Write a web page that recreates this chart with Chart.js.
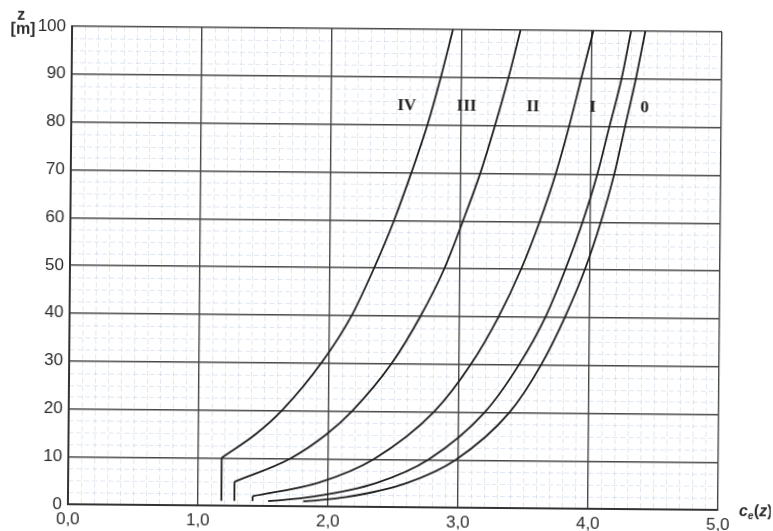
<!DOCTYPE html>
<html>
<head>
<meta charset="utf-8">
<title>ce(z)</title>
<script src="https://cdn.jsdelivr.net/npm/chart.js@4.4.1/dist/chart.umd.min.js"></script>
<style>
  html, body { margin: 0; padding: 0; background: #fff; overflow: hidden; }
  #wrap { width: 773px; height: 531px; transform: rotate(0.5deg); transform-origin: 50% 50%; }
</style>
</head>
<body>
<div id="wrap"><canvas id="ce" width="773" height="531"></canvas></div>
<script>
/* ===== współczynnik ekspozycji ce(z), kategorie terenu 0 - IV ===== */

const categories = ["0", "I", "II", "III", "IV"];

// wysokości z [m] i odczytane wartości ce(z)
const z0 = [1, 2, 5, 10, 20, 30, 40, 50, 60, 70, 80, 90, 100];
const ce0 = [1.81, 2.14, 2.60, 2.98, 3.39, 3.63, 3.81, 3.96, 4.08, 4.18, 4.26, 4.34, 4.41];

const zI = [1, 2, 5, 10, 20, 30, 40, 50, 60, 70, 80, 90, 100];
const ceI = [1.54, 1.88, 2.37, 2.77, 3.20, 3.46, 3.66, 3.81, 3.94, 4.05, 4.14, 4.23, 4.30];

const zII = [2, 5, 10, 20, 30, 40, 50, 60, 70, 80, 90, 100];
const ceII = [1.42, 1.93, 2.35, 2.81, 3.09, 3.30, 3.47, 3.61, 3.73, 3.83, 3.92, 4.01];

const zIII = [5, 10, 15, 20, 30, 40, 50, 60, 70, 80, 90, 100];
const ceIII = [1.28, 1.71, 1.98, 2.18, 2.48, 2.70, 2.88, 3.02, 3.15, 3.26, 3.36, 3.45];

const zIV = [10, 15, 20, 30, 40, 50, 60, 70, 80, 90, 100];
const ceIV = [1.18, 1.44, 1.64, 1.94, 2.17, 2.34, 2.49, 2.62, 2.74, 2.84, 2.93];

// poniżej zmin wartość stała (odcinek pionowy od z = 1 m)
const zBottom = 1;

// podpisy krzywych
const labelCe = [4.41, 4.01, 3.55, 3.04, 2.58];
const labelZ = 84;

// osie
const xTicks = [0, 1, 2, 3, 4, 5];
const yTicks = [0, 10, 20, 30, 40, 50, 60, 70, 80, 90, 100];

const zs = [z0, zI, zII, zIII, zIV];
const ces = [ce0, ceI, ceII, ceIII, ceIV];

const LINE = "#1f1f1f";
const fmt = v => v.toFixed(1).replace(".", ",");

const datasets = [];
categories.forEach((cat, i) => {
  const z = zs[i], c = ces[i];
  datasets.push({
    label: cat,
    data: z.map((h, k) => ({ x: c[k], y: h })),
    showLine: true, borderColor: LINE, borderWidth: 1.8,
    pointRadius: 0, cubicInterpolationMode: "monotone", fill: false,
  });
  if (z[0] > zBottom) {
    datasets.push({
      label: cat + " zmin",
      data: [{ x: c[0], y: zBottom }, { x: c[0], y: z[0] }],
      showLine: true, borderColor: LINE, borderWidth: 1.8,
      pointRadius: 0, tension: 0, fill: false,
    });
  }
});

// drobna siatka (0,1 x 2,5 m) pod siatką główną
const minorGrid = {
  id: "minorGrid",
  beforeDraw(chart) {
    const { ctx, chartArea: a, scales: { x, y } } = chart;
    ctx.save();
    ctx.fillStyle = "#fff";
    ctx.fillRect(0, 0, chart.width, chart.height);
    ctx.strokeStyle = "rgba(130,160,195,0.24)";
    ctx.lineWidth = 1;
    ctx.setLineDash([5, 3]);
    ctx.beginPath();
    for (let k = 1; k < 50; k++) {
      if (k % 10 === 0) continue;
      const px = Math.round(x.getPixelForValue(k / 10)) + 0.5;
      ctx.moveTo(px, a.top); ctx.lineTo(px, a.bottom);
    }
    for (let k = 1; k < 40; k++) {
      if (k % 4 === 0) continue;
      const py = Math.round(y.getPixelForValue(k * 2.5)) + 0.5;
      ctx.moveTo(a.left, py); ctx.lineTo(a.right, py);
    }
    ctx.stroke();
    ctx.restore();
  }
};

// podpisy kategorii i opisy osi
const annotations = {
  id: "annotations",
  afterDatasetsDraw(chart) {
    const { ctx, chartArea: a, scales: { x, y } } = chart;
    ctx.save();
    ctx.fillStyle = "#222";
    ctx.textAlign = "center";
    ctx.textBaseline = "middle";
    ctx.font = "bold 17px 'Liberation Serif', 'Times New Roman', serif";
    categories.forEach((cat, i) => {
      ctx.fillText(cat, x.getPixelForValue(labelCe[i]), y.getPixelForValue(labelZ));
    });

    // oś pionowa: z [m]
    ctx.fillStyle = "#2b2b2b";
    ctx.font = "bold 16px 'Liberation Sans', Arial, sans-serif";
    ctx.fillText("z", 19, 19);
    ctx.fillText("[m]", 21, 33);

    // oś pozioma: ce(z)
    ctx.textAlign = "left";
    let px = a.right + 21;
    const py = a.bottom + 2;
    ctx.font = "bold italic 16px 'Liberation Sans', Arial, sans-serif";
    ctx.fillText("c", px, py); px += ctx.measureText("c").width;
    ctx.font = "bold italic 10px 'Liberation Sans', Arial, sans-serif";
    ctx.fillText("e", px, py + 4); px += ctx.measureText("e").width + 0.5;
    ctx.font = "bold 16px 'Liberation Sans', Arial, sans-serif";
    ctx.fillText("(", px, py); px += ctx.measureText("(").width;
    ctx.font = "bold italic 16px 'Liberation Sans', Arial, sans-serif";
    ctx.fillText("z", px, py); px += ctx.measureText("z").width;
    ctx.font = "bold 16px 'Liberation Sans', Arial, sans-serif";
    ctx.fillText(")", px, py);
    ctx.restore();
  }
};

Chart.defaults.font.family = "'Liberation Sans', Arial, sans-serif";

new Chart(document.getElementById("ce"), {
  type: "scatter",
  data: { datasets },
  options: {
    responsive: false,
    animation: false,
    devicePixelRatio: 1,
    layout: { padding: { top: 29, right: 53, left: 0, bottom: 0 } },
    plugins: { legend: { display: false }, tooltip: { enabled: false } },
    scales: {
      x: {
        type: "linear", min: xTicks[0], max: xTicks[xTicks.length - 1],
        afterBuildTicks: s => { s.ticks = xTicks.map(v => ({ value: v })); },
        ticks: { padding: 5, color: "#2b2b2b", font: { size: 17 }, callback: v => fmt(v) },
        grid: { color: "#474747", lineWidth: 1.4, drawTicks: false },
        border: { color: "#333", width: 2 },
        afterFit: s => { s.height = 24; },
      },
      y: {
        type: "linear", min: yTicks[0], max: yTicks[yTicks.length - 1],
        afterBuildTicks: s => { s.ticks = yTicks.map(v => ({ value: v })); },
        ticks: { padding: 6, color: "#2b2b2b", font: { size: 17 }, callback: v => v },
        grid: { color: "#474747", lineWidth: 1.4, drawTicks: false },
        border: { color: "#333", width: 2 },
        afterFit: s => { s.width = 70; },
      },
    },
  },
  plugins: [minorGrid, annotations],
});
</script>
</body>
</html>
